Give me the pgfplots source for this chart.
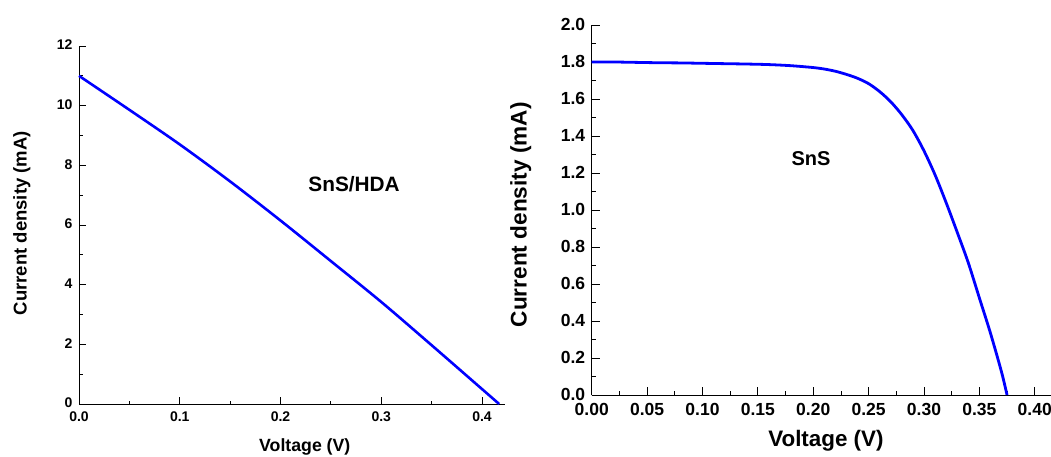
\documentclass[border=0pt]{standalone}
\usepackage{fontspec}
\setmainfont{Liberation Sans}
\usepackage{pgfplots}
\pgfplotsset{compat=1.18}

% J-V curves
\pgfplotstableread{
V J
0.000 11.00
0.050 9.86
0.100 8.70
0.150 7.46
0.200 6.15
0.250 4.79
0.300 3.42
0.350 1.97
0.400 0.50
0.417 0.00
}\hdadata

\pgfplotstableread{
V J
0.000 1.800
0.020 1.800
0.040 1.798
0.060 1.796
0.080 1.795
0.100 1.793
0.120 1.791
0.140 1.789
0.160 1.786
0.180 1.780
0.200 1.770
0.210 1.762
0.220 1.750
0.230 1.733
0.240 1.712
0.250 1.683
0.260 1.640
0.270 1.585
0.280 1.515
0.290 1.430
0.300 1.320
0.310 1.190
0.320 1.040
0.330 0.880
0.340 0.715
0.350 0.525
0.360 0.335
0.370 0.125
0.375 0.000
}\snsdata

\pgfplotsset{
  jv/.style={
    scale only axis,
    anchor=south west,
    axis lines*=left,
    tick align=inside,
    axis line style={line width=0.9pt},
    every tick/.style={black, line width=0.8pt},
    minor x tick num=1, minor y tick num=1,
    /pgf/number format/assume math mode=true,
    clip=false,
  },
}

\begin{document}
\begin{tikzpicture}[x=1pt,y=1pt]
\path[use as bounding box] (0,0) rectangle (1051,456);

\begin{axis}[jv,
  at={(79pt,52pt)}, width=426pt, height=358pt,
  xmin=0, xmax=0.4228, ymin=0, ymax=12,
  major tick length=7pt, minor tick length=3.5pt,
  xtick={0,0.1,0.2,0.3,0.4}, ytick={0,2,4,6,8,10,12},
  xticklabel style={font=\fontsize{14}{16}\selectfont\bfseries,
    /pgf/number format/fixed, /pgf/number format/fixed zerofill,
    /pgf/number format/precision=1, yshift=-4pt},
  yticklabel style={font=\fontsize{14}{16}\selectfont\bfseries, xshift=-3pt, yshift=1pt},
  xlabel={Voltage (V)},
  xlabel style={font=\fontsize{17.7}{20}\selectfont\bfseries,
    at={(axis description cs:0.53,0)}, anchor=center, yshift=-43pt},
  ylabel={Current density (mA)},
  ylabel style={font=\fontsize{18.5}{20}\selectfont\bfseries,
    at={(axis description cs:-0.134,0.505)}, anchor=center},
]
\addplot[color={rgb,255:red,0;green,0;blue,255}, line width=2.6pt, smooth, line join=round] table[x=V, y=J] {\hdadata};
\node[font=\fontsize{20.8}{24}\selectfont\bfseries] at (axis cs:0.273,7.37) {SnS/HDA};
\end{axis}

\begin{axis}[jv,
  at={(591.7pt,61pt)}, width=459.3pt, height=370pt,
  xmin=0, xmax=0.4147, ymin=0, ymax=2,
  major tick length=8pt, minor tick length=4pt,
  xtick={0,0.05,0.1,0.15,0.2,0.25,0.3,0.35,0.4},
  ytick={0,0.2,0.4,0.6,0.8,1,1.2,1.4,1.6,1.8,2},
  xticklabel style={font=\fontsize{17.5}{20}\selectfont\bfseries,
    /pgf/number format/fixed, /pgf/number format/fixed zerofill,
    /pgf/number format/precision=2, yshift=-5pt},
  yticklabel style={font=\fontsize{17.5}{20}\selectfont\bfseries,
    /pgf/number format/fixed, /pgf/number format/fixed zerofill,
    /pgf/number format/precision=1, xshift=-3pt, yshift=1pt},
  xlabel={Voltage (V)},
  xlabel style={font=\fontsize{22.4}{26}\selectfont\bfseries,
    at={(axis description cs:0.51,0)}, anchor=center, yshift=-46pt},
  ylabel={Current density (mA)},
  ylabel style={font=\fontsize{22.6}{26}\selectfont\bfseries,
    at={(axis description cs:-0.1546,0.487)}, anchor=center},
]
\addplot[color={rgb,255:red,0;green,0;blue,255}, line width=2.8pt, smooth, line join=round] table[x=V, y=J] {\snsdata};
\node[font=\fontsize{20}{24}\selectfont\bfseries] at (axis cs:0.198,1.276) {SnS};
\end{axis}
\end{tikzpicture}
\end{document}
